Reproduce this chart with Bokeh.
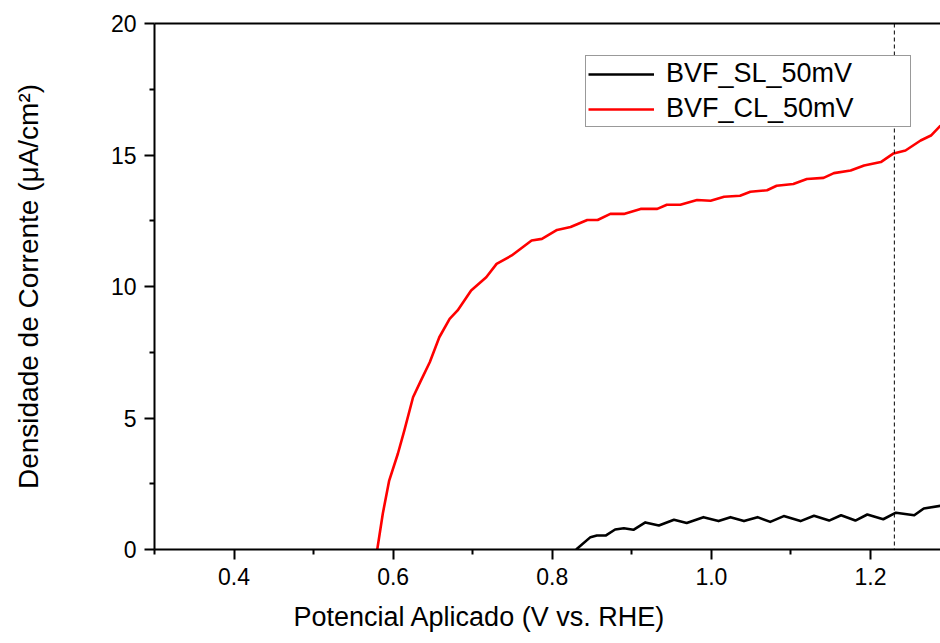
from bokeh.plotting import figure
from bokeh.models import (LinearAxis, FixedTicker, Span, Legend, LegendItem, Range1d, Title)
from bokeh.embed import file_html
from bokeh.resources import INLINE

# ---- data ----
cl_v = [0.580, 0.587, 0.595, 0.606, 0.614, 0.625, 0.635, 0.646, 0.658, 0.671, 0.681,
        0.698, 0.717, 0.730, 0.749, 0.774, 0.787, 0.806, 0.823, 0.844, 0.857, 0.873,
        0.890, 0.911, 0.932, 0.944, 0.961, 0.982, 0.999, 1.016, 1.036, 1.049, 1.070,
        1.082, 1.103, 1.120, 1.141, 1.154, 1.175, 1.192, 1.213, 1.229, 1.244, 1.263,
        1.276, 1.288]
cl_j = [0.00, 1.37, 2.62, 3.65, 4.52, 5.79, 6.43, 7.12, 8.07, 8.77, 9.09,
        9.85, 10.35, 10.86, 11.18, 11.75, 11.81, 12.15, 12.26, 12.53, 12.53, 12.76,
        12.76, 12.95, 12.95, 13.11, 13.11, 13.29, 13.26, 13.41, 13.45, 13.60, 13.66,
        13.83, 13.90, 14.09, 14.13, 14.31, 14.41, 14.60, 14.73, 15.06, 15.17, 15.55,
        15.74, 16.12]

sl_v = [0.830, 0.848, 0.856, 0.867, 0.879, 0.890, 0.902, 0.917, 0.934, 0.953, 0.969,
        0.990, 1.009, 1.024, 1.041, 1.058, 1.074, 1.091, 1.112, 1.129, 1.148, 1.163,
        1.181, 1.196, 1.216, 1.232, 1.255, 1.267, 1.288]
sl_j = [0.00, 0.47, 0.53, 0.53, 0.76, 0.81, 0.75, 1.03, 0.91, 1.13, 1.01,
        1.23, 1.08, 1.23, 1.08, 1.23, 1.05, 1.27, 1.08, 1.28, 1.10, 1.30,
        1.10, 1.33, 1.15, 1.40, 1.30, 1.56, 1.66]

series_names = ["BVF_SL_50mV", "BVF_CL_50mV"]
rhe_line = 1.23

x_ticks = [0.4, 0.6, 0.8, 1.0, 1.2]
x_tick_labels = ["0.4", "0.6", "0.8", "1.0", "1.2"]
x_minor = [0.3, 0.5, 0.7, 0.9, 1.1]
y_ticks = [0, 5, 10, 15, 20]
y_tick_labels = ["0", "5", "10", "15", "20"]
y_minor = [2.5, 7.5, 12.5, 17.5]

x_title = "Potencial Aplicado (V vs. RHE)"
y_title = "Densidade de Corrente (\u03bcA/cm\u00b2)"

FONT = "Liberation Sans"

p = figure(width=940, height=643, output_backend="svg", toolbar_location=None,
           x_range=Range1d(0.3, 1.288), y_range=Range1d(0, 20),
           min_border_left=154, min_border_right=0, min_border_top=23,
           min_border_bottom=94)
p.outline_line_color = None
p.xgrid.visible = False
p.ygrid.visible = False
p.background_fill_color = "white"
p.border_fill_color = "white"

r_sl = p.line(sl_v, sl_j, line_color="black", line_width=2.6, line_join="round")
r_cl = p.line(cl_v, cl_j, line_color="#ff0000", line_width=2.6, line_join="round")

p.add_layout(Span(location=rhe_line, dimension="height", line_color="black",
                  line_width=1, line_dash="4 3"))

# axes styling
for ax in (p.xaxis[0], p.yaxis[0]):
    ax.axis_line_width = 2
    ax.major_tick_line_width = 2
    ax.minor_tick_line_width = 2
    ax.major_tick_out = 10
    ax.major_tick_in = 0
    ax.minor_tick_out = 5
    ax.minor_tick_in = 0
    ax.major_label_text_font = FONT
    ax.major_label_text_font_size = "23px"
    ax.major_label_text_color = "black"

p.xaxis[0].ticker = FixedTicker(ticks=x_ticks, minor_ticks=x_minor)
p.xaxis[0].major_label_overrides = dict(zip(x_ticks, x_tick_labels))
p.xaxis[0].major_label_standoff = 8

p.yaxis[0].ticker = FixedTicker(ticks=y_ticks, minor_ticks=y_minor)
p.yaxis[0].major_label_overrides = dict(zip(y_ticks, y_tick_labels))
p.yaxis[0].major_label_standoff = 8
p.yaxis[0].axis_label = y_title
p.yaxis[0].axis_label_text_font = FONT
p.yaxis[0].axis_label_text_font_size = "28px"
p.yaxis[0].axis_label_text_font_style = "normal"
p.yaxis[0].axis_label_text_color = "black"
p.yaxis[0].axis_label_standoff = 64

# x title as a side title, offset along the axis like the reference
p.add_layout(Title(text=x_title, align="left", offset=139, standoff=24,
                   text_font=FONT, text_font_size="27px", text_font_style="normal",
                   text_color="black"), "below")

# top frame line
top = LinearAxis(major_tick_line_color=None, minor_tick_line_color=None,
                 major_label_text_font_size="0px", axis_line_width=2)
top.ticker = FixedTicker(ticks=[])
p.add_layout(top, "above")

legend = Legend(items=[LegendItem(label=series_names[0], renderers=[r_sl]),
                       LegendItem(label=series_names[1], renderers=[r_cl])],
                location=(431, 422))
legend.label_text_font = FONT
legend.label_text_font_size = "27px"
legend.label_text_color = "black"
legend.border_line_color = "#333333"
legend.border_line_width = 1
legend.background_fill_alpha = 1
legend.padding = 2
legend.spacing = 4
legend.margin = 0
legend.glyph_width = 66
legend.glyph_height = 30
legend.label_height = 30
legend.label_standoff = 12
legend.label_width = 242
p.add_layout(legend)

open("out.html", "w").write(file_html(p, INLINE))
